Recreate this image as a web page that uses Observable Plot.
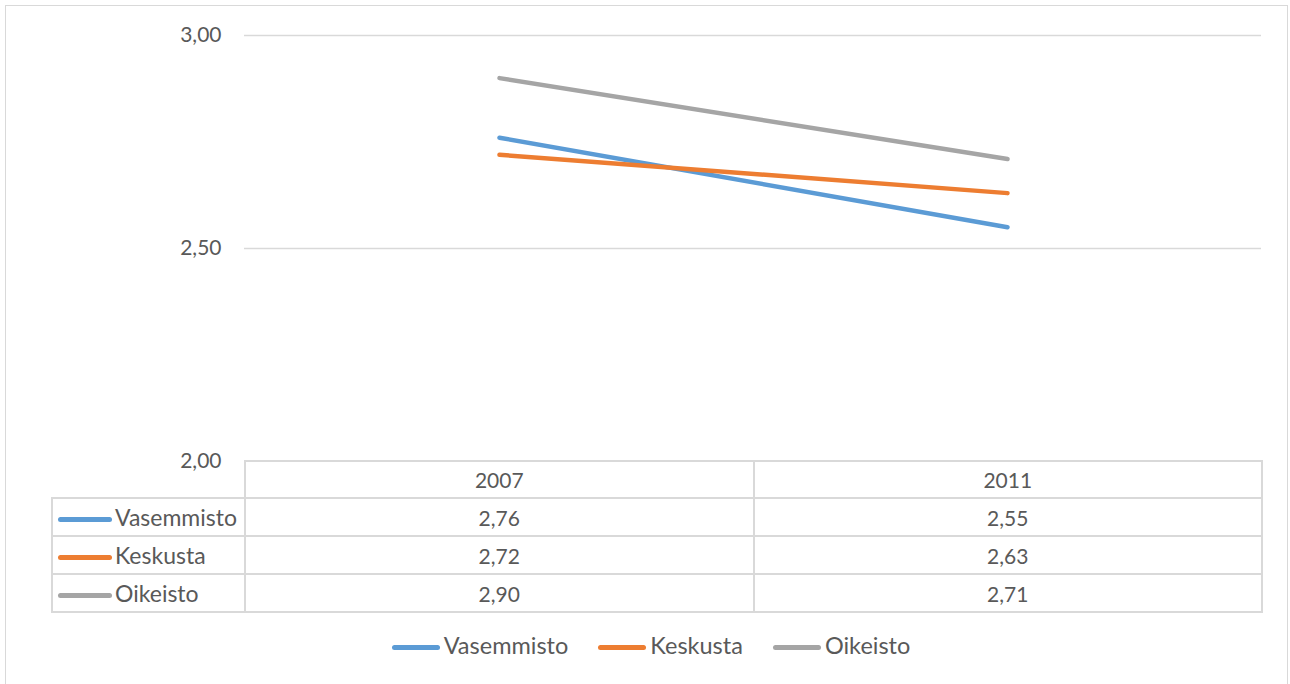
<!DOCTYPE html>
<html>
<head>
<meta charset="utf-8">
<script src="https://cdn.jsdelivr.net/npm/d3@7"></script>
<script src="https://cdn.jsdelivr.net/npm/@observablehq/plot@0.6"></script>
<style>
  html, body { margin: 0; padding: 0; background: #fff; }
  #wrap { position: relative; width: 1290px; height: 684px; overflow: hidden; font-family: Lato, "Open Sans", sans-serif; color: #595959; }
  #frame { position: absolute; left: 5px; top: 5px; width: 1283px; height: 720px; border: 1.5px solid #d9d9d9; box-sizing: border-box; pointer-events: none; }
  #chart { position: absolute; left: 0; top: 0; }
  #tbl { position: absolute; left: 51px; top: 460px; border-collapse: collapse; table-layout: fixed; font-size: 21px; }
  #tbl td { border: 2px solid #d9d9d9; text-align: center; padding: 0; box-sizing: border-box; white-space: nowrap; }
  #tbl td.corner { border: none; }
  #tbl td.name { text-align: left; padding-left: 5px; font-size: 23px; }
  .key { display: inline-block; width: 54px; height: 5px; border-radius: 3px; vertical-align: middle; margin-right: 3px; position: relative; top: -1px; }
  #legend { position: absolute; left: 6px; top: 631px; width: 1290px; text-align: center; font-size: 23.5px; }
  #legend .item { display: inline-block; margin: 0 15px; }
  #legend .key { width: 48px; margin-right: 4px; }
</style>
</head>
<body>
<div id="wrap">
  <div id="chart"></div>
  <table id="tbl"></table>
  <div id="legend"></div>
  <div id="frame"></div>
</div>
<script>
const years = ["2007", "2011"];
const seriesNames = ["Vasemmisto", "Keskusta", "Oikeisto"];
const vasemmisto = [2.76, 2.55];
const keskusta = [2.72, 2.63];
const oikeisto = [2.90, 2.71];
const seriesColors = ["#5B9BD5", "#ED7D31", "#A5A5A5"];
const yTicks = [2.0, 2.5, 3.0];
const gridTicks = [2.5, 3.0];

const seriesValues = [vasemmisto, keskusta, oikeisto];
const fmt = v => v.toFixed(2).replace(".", ",");
const data = [];
seriesNames.forEach((s, i) => years.forEach((yr, j) => data.push({series: s, year: yr, value: seriesValues[i][j]})));

const chart = Plot.plot({
  width: 1290,
  height: 684,
  marginLeft: 244,
  marginRight: 29,
  marginTop: 35,
  marginBottom: 223,
  style: {fontFamily: "Lato, 'Open Sans', sans-serif", fontSize: "21px", color: "#595959", background: "transparent", overflow: "visible"},
  x: {type: "point", domain: years, padding: 0.5, axis: null},
  y: {domain: [2, 3], ticks: yTicks, tickFormat: fmt, tickSize: 0, tickPadding: 23, label: null},
  color: {domain: seriesNames, range: seriesColors},
  marks: [
    Plot.ruleY(gridTicks, {stroke: "#d9d9d9", strokeWidth: 1.5}),
    Plot.line(data, {x: "year", y: "value", z: "series", stroke: "series", strokeWidth: 4.5, strokeLinecap: "round"})
  ]
});
document.getElementById("chart").appendChild(chart);

// data table aligned with the x scale
const xs = chart.scale("x");
const step = (xs.range[1] - xs.range[0]) / (years.length - 1 + 2 * xs.padding);
const left = 51;
const firstCol = xs.range[0] - left;
const tbl = document.getElementById("tbl");
let colgroup = `<colgroup><col style="width:${firstCol}px">` + years.map(() => `<col style="width:${step}px">`).join("") + `</colgroup>`;
let html = colgroup + `<tr style="height:37px"><td class="corner"></td>` + years.map(y => `<td>${y}</td>`).join("") + `</tr>`;
seriesNames.forEach((s, i) => {
  html += `<tr style="height:38px"><td class="name"><span class="key" style="background:${seriesColors[i]}"></span>${s}</td>` +
    seriesValues[i].map(v => `<td>${fmt(v)}</td>`).join("") + `</tr>`;
});
tbl.innerHTML = html;
tbl.style.width = (firstCol + step * years.length) + "px";

// legend
document.getElementById("legend").innerHTML = seriesNames.map((s, i) =>
  `<span class="item"><span class="key" style="background:${seriesColors[i]}"></span>${s}</span>`).join("");
</script>
</body>
</html>
